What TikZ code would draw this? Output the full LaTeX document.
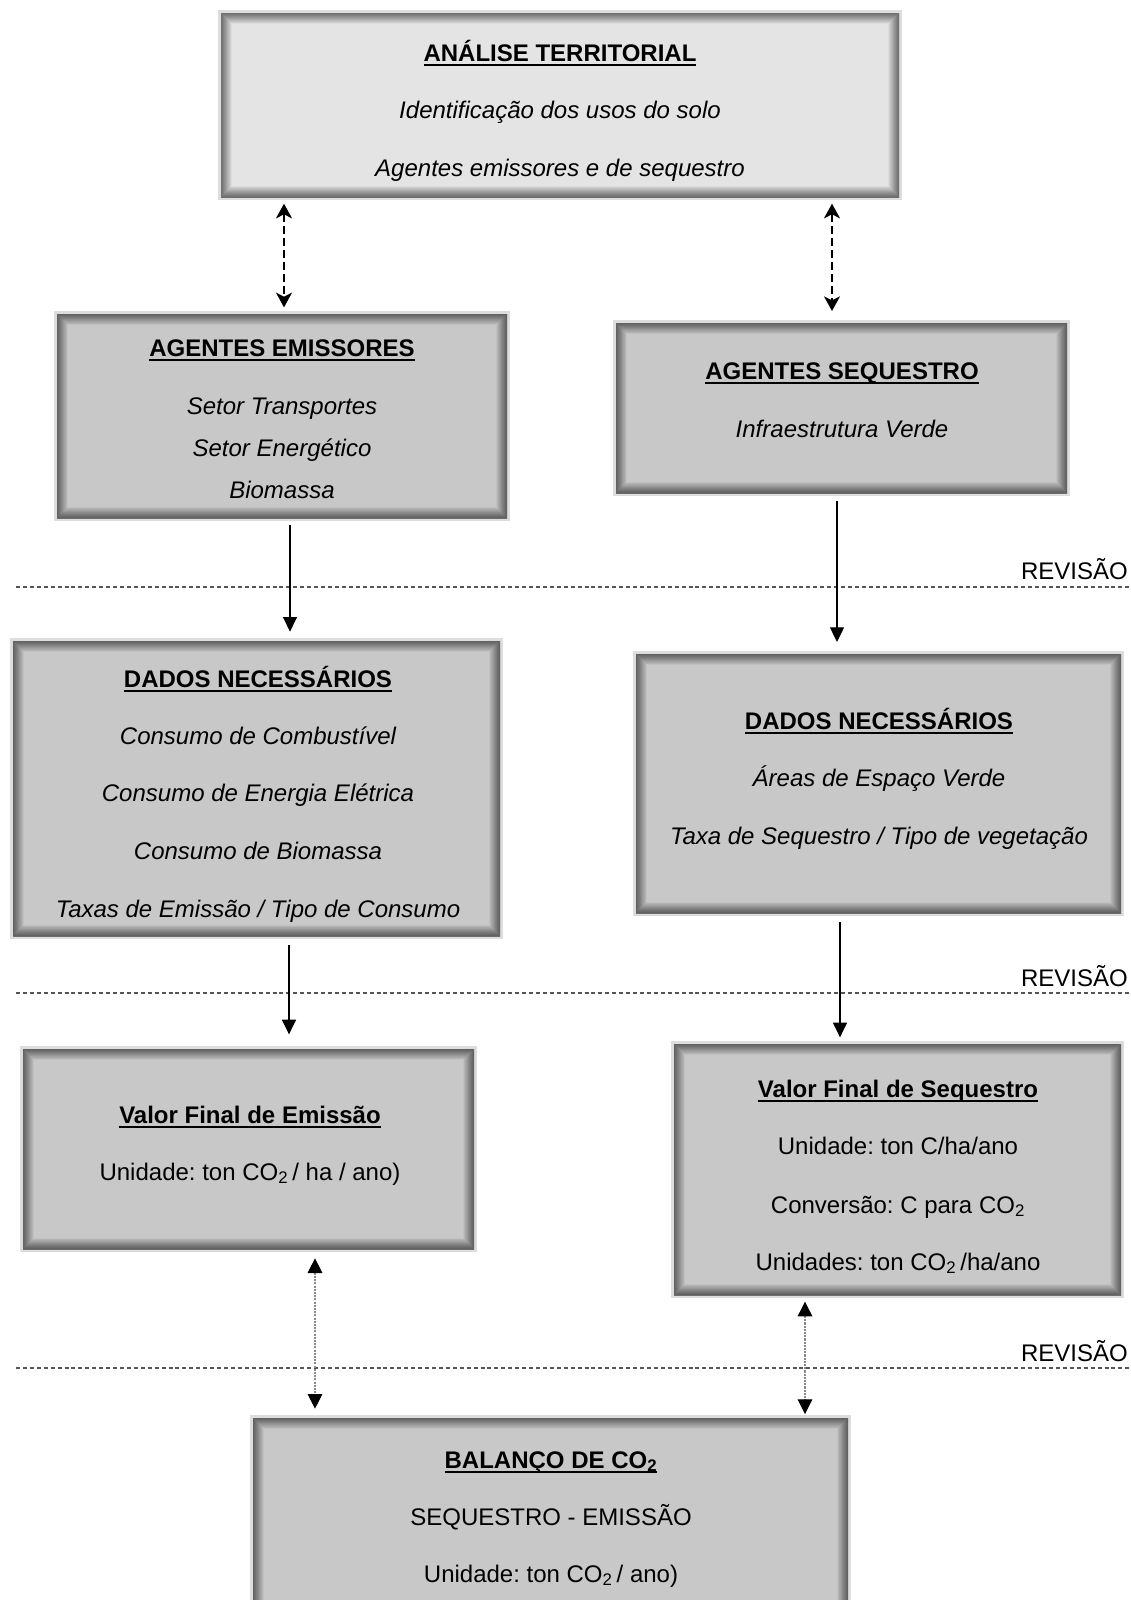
\documentclass[tikz,border=0pt]{standalone}
\usepackage{fontspec}
\setmainfont{Liberation Sans}
\frenchspacing
\newcommand\ulbox[1]{\setbox0\hbox{#1}\rlap{\rule[-3.6pt]{\wd0}{1.3pt}}\box0}
\usetikzlibrary{arrows.meta}
\definecolor{boxfill}{HTML}{C8C8C8}
\definecolor{topfill}{HTML}{E4E4E4}
\definecolor{boxedge}{HTML}{DDDDDD}
\definecolor{revline}{HTML}{555555}
\definecolor{dotline}{HTML}{8A8A8A}
\tikzset{
  shadebox/.style={rectangle, inner sep=0pt, outer sep=0pt, fill=boxfill,
    preaction={draw=boxedge, line width=4.6pt},
    path picture={
      \foreach \k in {1,...,20}{
        \draw[black, opacity=0.033, line width=\k*0.8pt]
          (path picture bounding box.south west) rectangle (path picture bounding box.north east);
      }
    }},
  topbox/.style={shadebox, fill=topfill},
  txt/.style={anchor=base, inner sep=0pt, font=\fontsize{18}{21}\selectfont},
  ttl/.style={txt, font=\fontsize{18}{21}\selectfont\bfseries},
  itx/.style={txt, font=\fontsize{18}{21}\selectfont\itshape},
  solidarrow/.style={-{Triangle[length=11pt,width=10.5pt]}, line width=0.9pt},
  dasharrow/.style={{Stealth[length=11pt,width=12pt,inset=3pt]}-{Stealth[length=11pt,width=12pt,inset=3pt]}, line width=1.4pt, dash pattern=on 6pt off 3pt},
  dotarrow/.style={{Triangle[length=11pt,width=11pt,color=black]}-{Triangle[length=11pt,width=11pt,color=black]}, line width=0.8pt, draw=dotline, dash pattern=on 1.6pt off 0.8pt},
  revdash/.style={draw=revline, line width=0.8pt, dash pattern=on 3pt off 2.2pt},
  revtxt/.style={anchor=base east, inner sep=0pt, font=\fontsize{18}{21}\selectfont}
}
\begin{document}
\begin{tikzpicture}[x=0.75pt,y=-0.75pt]
\useasboundingbox (0,0) rectangle (1131,1600);
\clip (0,0) rectangle (1131,1600);

% boxes
\node[topbox, minimum width=678*0.75pt, minimum height=184*0.75pt] (top) at (560,105) {};
\node[shadebox, minimum width=450*0.75pt, minimum height=204*0.75pt] (emi) at (282,416) {};
\node[shadebox, minimum width=451*0.75pt, minimum height=170*0.75pt] (seq) at (841.5,408) {};
\node[shadebox, minimum width=487*0.75pt, minimum height=295*0.75pt] (dl) at (256.5,788.5) {};
\node[shadebox, minimum width=485*0.75pt, minimum height=259*0.75pt] (dr) at (878.5,783.5) {};
\node[shadebox, minimum width=451*0.75pt, minimum height=200*0.75pt] (ve) at (248.5,1149) {};
\node[shadebox, minimum width=447*0.75pt, minimum height=251*0.75pt] (vs) at (897.5,1169.5) {};
\node[shadebox, minimum width=595*0.75pt, minimum height=240*0.75pt] (bal) at (550.5,1538) {};

% texts
\node[ttl] (t0) at (560,61) {\ulbox{ANÁLISE TERRITORIAL}};
\node[itx] (t1) at (560,118) {Identificação dos usos do solo};
\node[itx] (t2) at (560,176) {Agentes emissores e de sequestro};

\node[ttl] (e0) at (282,356) {\ulbox{AGENTES EMISSORES}};
\node[itx] (e1) at (282,414) {Setor Transportes};
\node[itx] (e2) at (282,456) {Setor Energético};
\node[itx] (e3) at (282,498) {Biomassa};

\node[ttl] (s0) at (842,379) {\ulbox{AGENTES SEQUESTRO}};
\node[itx] (s1) at (842,437) {Infraestrutura Verde};

\node[ttl] (l0) at (258,687) {\ulbox{DADOS NECESSÁRIOS}};
\node[itx] (l1) at (258,744) {Consumo de Combustível};
\node[itx] (l2) at (258,801) {Consumo de Energia Elétrica};
\node[itx] (l3) at (258,859) {Consumo de Biomassa};
\node[itx] (l4) at (258,917) {Taxas de Emissão / Tipo de Consumo};

\node[ttl] (r0) at (879,729) {\ulbox{DADOS NECESSÁRIOS}};
\node[itx] (r1) at (879,786) {Áreas de Espaço Verde};
\node[itx] (r2) at (879,844) {Taxa de Sequestro / Tipo de vegetação};

\node[ttl] (v0) at (250,1123) {\ulbox{Valor Final de Emissão}};
\node[txt] (v1) at (250,1180) {Unidade: ton CO\textsubscript{2}\,/ ha / ano)};

\node[ttl] (w0) at (898,1097) {\ulbox{Valor Final de Sequestro}};
\node[txt] (w1) at (898,1154) {Unidade: ton C/ha/ano};
\node[txt] (w2) at (898,1213) {Conversão: C para CO\textsubscript{2}};
\node[txt] (w3) at (898,1270) {Unidades: ton CO\textsubscript{2}\,/ha/ano};

\node[ttl] (b0) at (551,1468) {\ulbox{BALANÇO DE CO\textsubscript{2}}};
\node[txt] (b1) at (551,1525) {SEQUESTRO - EMISSÃO};
\node[txt] (b2) at (551,1582) {Unidade: ton CO\textsubscript{2}\,/ ano)};

% revision lines
\coordinate (rl1) at (16,587);  \coordinate (rr1) at (1131,587);
\coordinate (rl2) at (16,993);  \coordinate (rr2) at (1131,993);
\coordinate (rl3) at (16,1368); \coordinate (rr3) at (1131,1368);
\draw[revdash] (rl1) -- (rr1);
\draw[revdash] (rl2) -- (rr2);
\draw[revdash] (rl3) -- (rr3);
\node[revtxt] (rev1) at (1128,579) {REVISÃO};
\node[revtxt] (rev2) at (1128,986) {REVISÃO};
\node[revtxt] (rev3) at (1128,1361) {REVISÃO};

% connector x positions
\coordinate (xa) at (284,0);
\coordinate (xb) at (832,0);
\coordinate (xc) at (290,0);
\coordinate (xd) at (837,0);
\coordinate (xe) at (289,0);
\coordinate (xf) at (840,0);
\coordinate (xg) at (315,0);
\coordinate (xh) at (805,0);

\draw[dasharrow, shorten <=5pt, shorten >=5pt] (top.south -| xa) -- (emi.north -| xa);
\draw[dasharrow, shorten <=5pt, shorten >=9pt] (top.south -| xb) -- (seq.north -| xb);
\draw[solidarrow, shorten <=5pt, shorten >=7pt] (emi.south -| xc) -- (dl.north -| xc);
\draw[solidarrow, shorten <=6pt, shorten >=9pt] (seq.south -| xd) -- (dr.north -| xd);
\draw[solidarrow, shorten <=7pt, shorten >=11pt] (dl.south -| xe) -- (ve.north -| xe);
\draw[solidarrow, shorten <=7pt, shorten >=5pt] (dr.south -| xf) -- (vs.north -| xf);
\draw[dotarrow, shorten <=7pt, shorten >=7pt] (ve.south -| xg) -- (bal.north -| xg);
\draw[dotarrow, shorten <=5pt, shorten >=3pt] (vs.south -| xh) -- (bal.north -| xh);
\end{tikzpicture}
\end{document}
